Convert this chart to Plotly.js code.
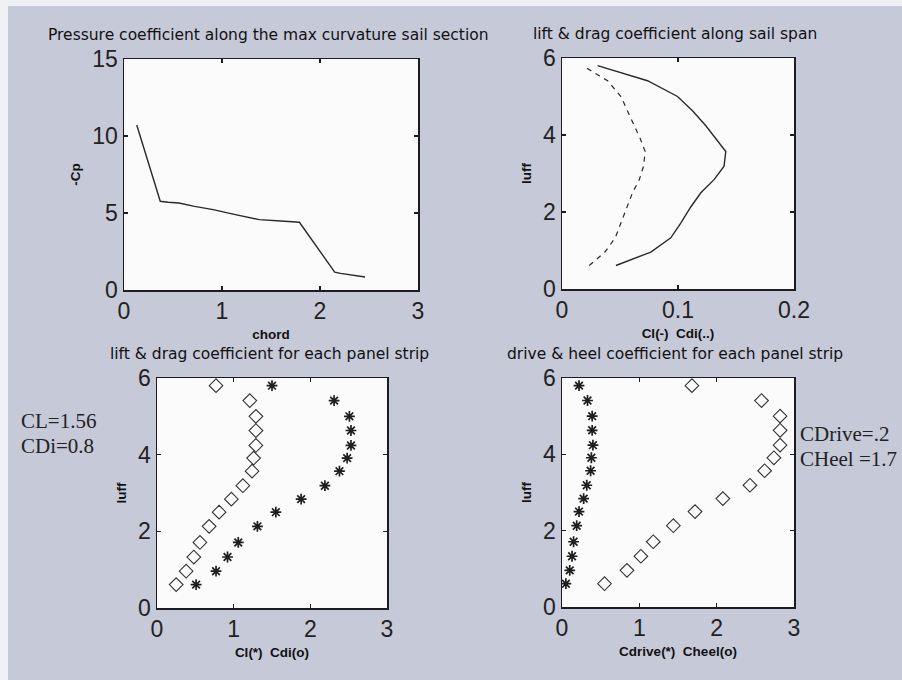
<!DOCTYPE html>
<html>
<head>
<meta charset="utf-8">
<script src="https://cdn.plot.ly/plotly-3.0.1.min.js"></script>
<style>html,body{margin:0;padding:0;background:#c5c8d7;}#chart{width:902px;height:680px;}</style>
</head>
<body>
<div id="chart"></div>
<script>
// ---- Data ----
// Plot 1: pressure coefficient along max-curvature section
const chordX = [0.13, 0.37, 0.45, 0.56, 0.72, 0.91, 1.09, 1.24, 1.38, 1.60, 1.79, 2.15, 2.21, 2.46];
const minusCp = [10.71, 5.76, 5.70, 5.65, 5.43, 5.22, 4.96, 4.75, 4.57, 4.48, 4.40, 1.16, 1.08, 0.84];

// Strip heights along the luff (shared by plots 2-4)
const luff = [0.61, 0.96, 1.33, 1.71, 2.13, 2.50, 2.84, 3.19, 3.57, 3.91, 4.24, 4.63, 5.00, 5.41, 5.80];

// Plot 2: lift & drag coefficient along span
const clSpan  = [0.0465, 0.0766, 0.0938, 0.1024, 0.1110, 0.1197, 0.1311, 0.1397, 0.1412, 0.1326, 0.1240, 0.1125, 0.0996, 0.0737, 0.0307];
const cdiSpan = [0.0235, 0.0370, 0.0459, 0.0508, 0.0557, 0.0608, 0.0666, 0.0703, 0.0717, 0.0674, 0.0623, 0.0565, 0.0508, 0.0393, 0.0178];

// Plot 3: lift & drag coefficient per panel strip
const clStrip  = [0.51, 0.77, 0.92, 1.06, 1.31, 1.55, 1.88, 2.19, 2.38, 2.48, 2.53, 2.53, 2.51, 2.31, 1.50];
const cdiStrip = [0.25, 0.38, 0.48, 0.56, 0.68, 0.81, 0.97, 1.12, 1.24, 1.26, 1.29, 1.29, 1.29, 1.21, 0.77];

// Plot 4: drive & heel coefficient per panel strip
const cdriveStrip = [0.05, 0.10, 0.13, 0.15, 0.19, 0.22, 0.28, 0.32, 0.37, 0.38, 0.40, 0.39, 0.39, 0.33, 0.22];
const cheelStrip  = [0.55, 0.84, 1.02, 1.18, 1.44, 1.72, 2.08, 2.43, 2.62, 2.74, 2.82, 2.82, 2.82, 2.58, 1.68];

// Text
const titles = [
  'Pressure coefficient along the max curvature sail section',
  'lift & drag coefficient along sail span',
  'lift & drag coefficient for each panel strip',
  'drive & heel coefficient for each panel strip'
];
const xTitles = ['chord', 'Cl(-)  Cdi(..)', 'Cl(*)  Cdi(o)', 'Cdrive(*)  Cheel(o)'];
const yTitles = ['-Cp', 'luff', 'luff', 'luff'];
const noteLeft = ['CL=1.56', 'CDi=0.8'];
const noteRight = ['CDrive=.2', 'CHeel =1.7'];

// ---- Styling ----
const W = 902, H = 680;
const ink = '#1c1c24';
const tickFont = {family: 'Liberation Sans, Arial, sans-serif', size: 23, color: '#222'};
const axTitleFont = {family: 'Liberation Sans, Arial, sans-serif', size: 13.5, color: '#111', weight: 'bold'};
const titleFont = {family: 'DejaVu Sans, Verdana, sans-serif', size: 15.5, color: '#111'};
const noteFont = {family: 'Liberation Serif, Times New Roman, serif', size: 21, color: '#222'};

function px(x){ return x / W; }
function py(y){ return 1 - y / H; }

function axisBase(range, dtick){
  return {
    range: range, dtick: dtick, tick0: 0,
    showgrid: false, zeroline: false,
    showline: true, mirror: 'ticks', linecolor: ink, linewidth: 1.5,
    ticks: 'inside', ticklen: 4, tickcolor: ink, tickwidth: 1.5,
    tickfont: tickFont, fixedrange: true, automargin: false
  };
}

const boxes = [
  {x0: 124, x1: 418, y0: 59, y1: 290},
  {x0: 562, x1: 794, y0: 58, y1: 289},
  {x0: 157, x1: 387, y0: 378, y1: 608},
  {x0: 562, x1: 794, y0: 378, y1: 607}
];
const xRanges = [[0,3],[0,0.2],[0,3],[0,3]];
const xDticks = [1, 0.1, 1, 1];
const yRanges = [[0,15],[0,6],[0,6],[0,6]];
const yDticks = [5, 2, 2, 2];

const layout = {
  width: W, height: H,
  margin: {l: 0, r: 0, t: 0, b: 0},
  paper_bgcolor: '#c6c9d8',
  plot_bgcolor: '#fbfbfb',
  showlegend: false,
  annotations: [],
  shapes: [
    {type: 'rect', xref: 'paper', yref: 'paper', x0: 0, x1: px(8), y0: 0, y1: 1, fillcolor: '#eff0f4', line: {width: 0}, layer: 'below'},
    {type: 'rect', xref: 'paper', yref: 'paper', x0: 0, x1: 1, y0: py(6), y1: 1, fillcolor: '#eff0f4', line: {width: 0}, layer: 'below'}
  ]
};

boxes.forEach((b, i) => {
  const n = i === 0 ? '' : String(i + 1);
  const xa = axisBase(xRanges[i], xDticks[i]);
  xa.domain = [px(b.x0), px(b.x1)];
  xa.anchor = 'y' + n;
  xa.title = {text: xTitles[i], font: axTitleFont, standoff: 6};
  const ya = axisBase(yRanges[i], yDticks[i]);
  ya.domain = [py(b.y1), py(b.y0)];
  ya.anchor = 'x' + n;
  ya.title = {text: yTitles[i], font: axTitleFont, standoff: 8};
  layout['xaxis' + n] = xa;
  layout['yaxis' + n] = ya;
  layout.annotations.push({
    text: titles[i], xref: 'paper', yref: 'paper',
    x: px((b.x0 + b.x1) / 2 - 3), y: py(b.y0 - 13), xanchor: 'center', yanchor: 'bottom',
    showarrow: false, font: titleFont
  });
});

function note(text, x, yTop){
  return {text: text, xref: 'paper', yref: 'paper', x: px(x), y: py(yTop), xanchor: 'left', yanchor: 'top', align: 'left', showarrow: false, font: noteFont};
}
layout.annotations.push(
  note(noteLeft[0], 19, 407),
  note(noteLeft[1], 19, 432),
  note(noteRight[0], 798, 420),
  note(noteRight[1], 798, 445)
);

const lineStyle = {color: '#2a2a2a', width: 1.4};
const starMarker = {symbol: 'asterisk-open', size: 9, color: '#1e1e1e', line: {color: '#1e1e1e', width: 1.7}};
const diamondMarker = {symbol: 'diamond-open', size: 10.5, color: '#333', line: {color: '#333', width: 1.1}};

const traces = [
  {x: chordX, y: minusCp, mode: 'lines', line: lineStyle, xaxis: 'x', yaxis: 'y', name: '-Cp'},
  {x: clSpan, y: luff, mode: 'lines', line: lineStyle, xaxis: 'x2', yaxis: 'y2', name: 'Cl'},
  {x: cdiSpan, y: luff, mode: 'lines', line: {color: '#2a2a2a', width: 1.2, dash: '5px,5px'}, xaxis: 'x2', yaxis: 'y2', name: 'Cdi'},
  {x: clStrip, y: luff, mode: 'markers', marker: starMarker, xaxis: 'x3', yaxis: 'y3', name: 'Cl strip'},
  {x: cdiStrip, y: luff, mode: 'markers', marker: diamondMarker, xaxis: 'x3', yaxis: 'y3', name: 'Cdi strip'},
  {x: cdriveStrip, y: luff, mode: 'markers', marker: starMarker, xaxis: 'x4', yaxis: 'y4', name: 'Cdrive strip'},
  {x: cheelStrip, y: luff, mode: 'markers', marker: diamondMarker, xaxis: 'x4', yaxis: 'y4', name: 'Cheel strip'}
];

Plotly.newPlot('chart', traces, layout, {staticPlot: true, displayModeBar: false});
</script>
</body>
</html>
